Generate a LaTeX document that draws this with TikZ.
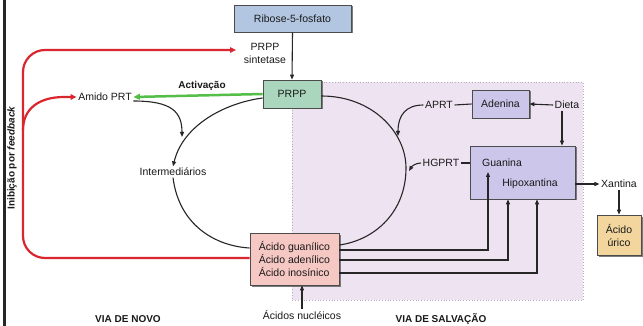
\documentclass[tikz,border=0pt]{standalone}
\usepackage{fontspec}
\setmainfont{Liberation Sans}
\usetikzlibrary{arrows.meta,shadows}
\definecolor{ribosec}{RGB}{178,198,226}
\definecolor{prppc}{RGB}{170,214,190}
\definecolor{adenc}{RGB}{204,198,234}
\definecolor{acidoc}{RGB}{246,200,196}
\definecolor{uricoc}{RGB}{242,214,158}
\definecolor{regionc}{RGB}{238,228,241}
\definecolor{regionb}{RGB}{185,170,195}
\definecolor{redc}{RGB}{218,38,46}
\definecolor{greenc}{RGB}{84,190,72}
\begin{document}
\begin{tikzpicture}[x=1pt,y=-1pt,
  font=\fontsize{10.5}{13}\selectfont,
  box/.style={draw=black!70, line width=0.8pt, inner sep=1pt, text=black!90,
    drop shadow={shadow xshift=1.5pt,shadow yshift=-1.5pt,fill=black!60,opacity=0.85}},
  lbl/.style={inner sep=1.5pt, text=black!90},
  blk/.style={draw=black!85, line width=1.1pt},
  arr/.style={blk, -{Triangle[length=5pt,width=4pt]}},
  redarr/.style={draw=redc, line width=2.2pt, -{Triangle[length=6pt,width=5.5pt]}},
  boldlbl/.style={font=\fontsize{10}{12}\selectfont\bfseries, text=black!90}]
\useasboundingbox (0,0) rectangle (643,326);
\fill[white] (0,0) rectangle (643,326);
% left bar
\fill[black!85] (2.5,0) rectangle (5.5,326);
% salvage region
\path[fill=regionc, draw=regionb, line width=0.8pt, dotted] (292,82) rectangle (583,300);

% boxes
\node[box, fill=ribosec, minimum width=117pt, minimum height=27pt] (ribose) at (292.5,18.5) {Ribose-5-fosfato};
\node[box, fill=prppc, minimum width=58pt, minimum height=28pt] (prpp) at (292,94) {PRPP};
\node[box, fill=adenc, minimum width=57pt, minimum height=28pt] (adenina) at (500.5,104) {Adenina};
\node[box, fill=adenc, minimum width=105pt, minimum height=53pt] (guan) at (522.5,172.5) {};
\node[lbl] (guanina) at (502,163) {Guanina};
\node[lbl] (hipox) at (530,184) {Hipoxantina};
\node[box, fill=acidoc, minimum width=89pt, minimum height=52pt, align=left] (acido) at (294.5,259) {Ácido guanílico\\Ácido adenílico\\Ácido inosínico};
\node[box, fill=uricoc, minimum width=44pt, minimum height=40pt, align=center] (urico) at (619,235) {Ácido\\úrico};

% labels
\node[lbl, align=center] (sint) at (265,53.5) {PRPP\\sintetase};
\node[lbl] (amido) at (105,97) {Amido PRT};
\node[boldlbl] (activ) at (202,86) {Activação};
\node[lbl] (inter) at (173,172) {Intermediários};
\node[lbl] (aprt) at (439,105) {APRT};
\node[lbl] (hgprt) at (441,163) {HGPRT};
\node[lbl] (dieta) at (567,105) {Dieta};
\node[lbl] (xantina) at (619,184) {Xantina};
\node[lbl] (nucl) at (302,315) {Ácidos nucléicos};
\node[boldlbl] (vianovo) at (128,319) {VIA DE NOVO};
\node[boldlbl] (viasalv) at (441,319) {VIA DE SALVAÇÃO};
\node[boldlbl, rotate=90] (feedback) at (12,158) {Inibição por \textit{feedback}};

% red feedback lines
\draw[redarr, rounded corners=22pt] (acido.west |- 0,258) -- (23,258) -- (23,50) -- (236,50);
\draw[redarr] (23,130) .. controls (23,108) and (40,97) .. (64,97) -- (amido.west);

% green activation
\draw[draw=greenc, line width=2.5pt, -{Triangle[length=6.5pt,width=6pt]}] (prpp.west) -- (amido.east);

% black arrows
\draw[arr] (ribose.south) -- (prpp.north);
\draw[arr] (amido.east |- 0,101) .. controls (172,101) and (182,112) .. (182,137);
\draw[arr] (prpp.west |- 0,98) .. controls (225,103) and (183,125) .. (inter.north);
\draw[blk] (inter.south) .. controls (179,225) and (215,246) .. (acido.west |- 0,248);
\draw[blk] (prpp.east |- 0,96) .. controls (372,96) and (406,132) .. (406,168) .. controls (406,212) and (375,240) .. (acido.east |- 0,245);
\draw[arr] (aprt.west) .. controls (406,105) and (398,115) .. (398,136);
\draw[blk] (aprt.east) -- (adenina.west);
\draw[arr] (hgprt.west) .. controls (416,163) and (412,166) .. (409,171);
\draw[blk] (hgprt.east) -- (guan.west |- hgprt.east);
\draw[arr] (dieta.west) -- (adenina.east);
\draw[arr] (dieta.south -| 562,0) -- (guan.north -| 562,0);
\draw[arr] (hipox.east -| guan.east) -- (xantina.west);
\draw[arr] (xantina.south) -- (urico.north);
\draw[arr] (acido.east |- 0,250) -- (488,250) -- (488,172);
\draw[arr] (acido.east |- 0,260) -- (508,260) -- (guan.south -| 508,0);
\draw[arr] (acido.east |- 0,273) -- (537,273) -- (guan.south -| 537,0);
\draw[arr] (nucl.north) -- (nucl.north |- acido.south);
\end{tikzpicture}
\end{document}
